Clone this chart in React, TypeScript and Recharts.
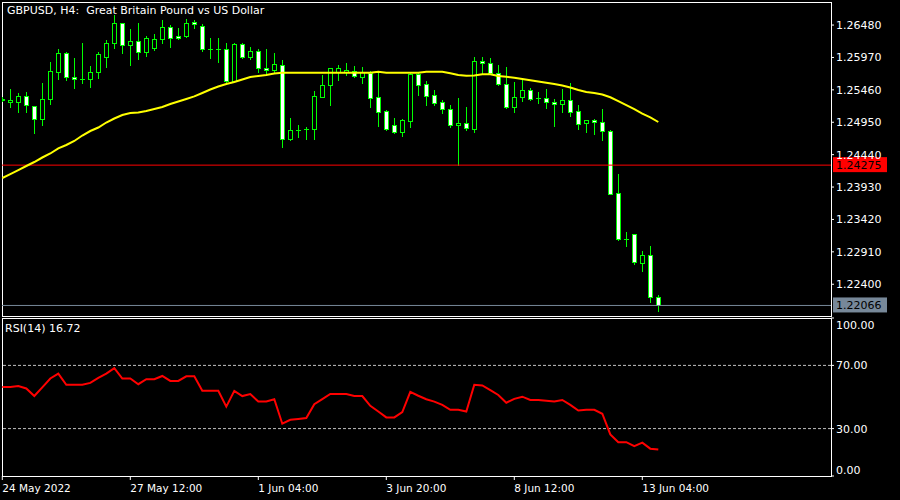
import { ComposedChart, Bar, Line, XAxis, YAxis, ReferenceLine } from "recharts";

// GBPUSD H4 candles (83 bars, oldest first)
const opens = [
  1.25316, 1.25264, 1.25264, 1.25358, 1.2521, 1.25001, 1.25311, 1.25736, 1.26035, 1.25657,
  1.25626, 1.25626, 1.25736, 1.25972, 1.26192, 1.26507, 1.26161, 1.26224, 1.26051, 1.26114,
  1.26255, 1.26449, 1.26307, 1.26307, 1.26523, 1.2646, 1.26098, 1.26098, 1.26098, 1.25599,
  1.26181, 1.25982, 1.26067, 1.25799, 1.25768, 1.25846, 1.24681, 1.24828, 1.24839, 1.24839,
  1.25352, 1.25531, 1.25741, 1.25736, 1.25761, 1.25667, 1.2572, 1.25343, 1.25122, 1.24907,
  1.24801, 1.24974, 1.25709, 1.25552, 1.25379, 1.25264, 1.25154, 1.24902, 1.24933, 1.24848,
  1.25909, 1.25878, 1.2572, 1.25547, 1.25195, 1.25343, 1.25457, 1.25336, 1.25327, 1.25264,
  1.25242, 1.25295, 1.25127, 1.24933, 1.24985, 1.24949, 1.24812, 1.23832, 1.23107, 1.23186,
  1.22739, 1.22856, 1.22195,
];
const highs = [
  1.25347, 1.25468, 1.25405, 1.25431, 1.2521, 1.25563, 1.25898, 1.26098, 1.2606, 1.25956,
  1.26202, 1.2584, 1.2606, 1.26244, 1.26638, 1.26507, 1.26413, 1.26517, 1.26307, 1.26339,
  1.26559, 1.2648, 1.26438, 1.2657, 1.26559, 1.26496, 1.26281, 1.26281, 1.26192, 1.26192,
  1.26202, 1.26139, 1.26098, 1.26098, 1.26035, 1.2593, 1.25012, 1.24907, 1.2487, 1.25442,
  1.25694, 1.25799, 1.25851, 1.25878, 1.25835, 1.25815, 1.25756, 1.2572, 1.25143, 1.25012,
  1.24996, 1.25745, 1.2572, 1.25604, 1.25457, 1.253, 1.25221, 1.25327, 1.25185, 1.25972,
  1.25972, 1.25956, 1.25851, 1.25815, 1.25588, 1.25615, 1.25484, 1.25431, 1.25468, 1.25311,
  1.25473, 1.25563, 1.25221, 1.24985, 1.24996, 1.25158, 1.24828, 1.24135, 1.23222, 1.23191,
  1.22923, 1.23002, 1.22231,
];
const lows = [
  1.25284, 1.25195, 1.25116, 1.25111, 1.24785, 1.24907, 1.25232, 1.25635, 1.25615, 1.25494,
  1.25563, 1.255, 1.25651, 1.25824, 1.26123, 1.26044, 1.25846, 1.25941, 1.25993, 1.26087,
  1.26192, 1.26139, 1.26255, 1.26296, 1.26429, 1.26076, 1.25956, 1.25893, 1.25583, 1.25594,
  1.25956, 1.25941, 1.25736, 1.2573, 1.25736, 1.24565, 1.24678, 1.24722, 1.24686, 1.24681,
  1.25343, 1.25221, 1.25615, 1.25694, 1.25657, 1.25572, 1.25195, 1.24891, 1.24828, 1.24776,
  1.24733, 1.2487, 1.25379, 1.25221, 1.25221, 1.251, 1.2487, 1.2428, 1.24828, 1.24801,
  1.2572, 1.25715, 1.25536, 1.25169, 1.25116, 1.25289, 1.253, 1.25253, 1.25179, 1.24896,
  1.25116, 1.25053, 1.24844, 1.24801, 1.24765, 1.2467, 1.23816, 1.23096, 1.23007, 1.22714,
  1.22613, 1.22125, 1.21984,
];
const closes = [
  1.253, 1.253, 1.25358, 1.25221, 1.25001, 1.25311, 1.25752, 1.26035, 1.25657, 1.25626,
  1.25626, 1.25736, 1.26024, 1.26192, 1.26507, 1.26166, 1.26224, 1.26051, 1.26271, 1.26255,
  1.26449, 1.26276, 1.26276, 1.26517, 1.26491, 1.26098, 1.26098, 1.26098, 1.25594, 1.26181,
  1.25982, 1.26067, 1.25799, 1.25768, 1.25867, 1.24681, 1.24823, 1.24828, 1.24839, 1.25358,
  1.25531, 1.25799, 1.25799, 1.25772, 1.25678, 1.25736, 1.25327, 1.25116, 1.24848, 1.24801,
  1.24985, 1.25709, 1.25536, 1.25368, 1.25248, 1.25154, 1.24902, 1.24933, 1.24855, 1.25909,
  1.25878, 1.2572, 1.25547, 1.25195, 1.25343, 1.25457, 1.25311, 1.25336, 1.25264, 1.25232,
  1.253, 1.25116, 1.24918, 1.24985, 1.24949, 1.24807, 1.23816, 1.23107, 1.23107, 1.22745,
  1.22856, 1.22195, 1.22066,
];
// yellow moving average
const maValues = [
  1.24072, 1.24135, 1.24198, 1.24261, 1.24324, 1.24395, 1.24458, 1.2454, 1.24592, 1.24655,
  1.24741, 1.24812, 1.24867, 1.24946, 1.25009, 1.25064, 1.25095, 1.25103, 1.25127, 1.25158,
  1.2519, 1.25237, 1.25276, 1.25316, 1.25358, 1.2541, 1.25465, 1.25513, 1.25552, 1.25583,
  1.25623, 1.25662, 1.25678, 1.25694, 1.25717, 1.2573, 1.2573, 1.2573, 1.2573, 1.2573,
  1.2573, 1.2573, 1.2573, 1.2573, 1.2573, 1.2573, 1.2573, 1.25745, 1.2573, 1.2573,
  1.2573, 1.2573, 1.2573, 1.25745, 1.25745, 1.25745, 1.2572, 1.25694, 1.25683, 1.25686,
  1.25705, 1.25705, 1.25678, 1.25667, 1.25651, 1.25631, 1.2561, 1.25591, 1.25572, 1.25552,
  1.25528, 1.25497, 1.25457, 1.25426, 1.2541, 1.25387, 1.25343, 1.25284, 1.25221, 1.25158,
  1.25087, 1.25027, 1.24954,
];
const rsiValues = [
  56.4, 56.4, 56.9, 55.4, 50.6, 56.1, 61.7, 64.8, 57.7, 57.7,
  57.7, 58.9, 62.1, 64.8, 68.3, 61.7, 61.7, 58.1, 61.3, 61.3,
  63.3, 60.2, 60.2, 63.1, 63.1, 53.9, 53.9, 53.9, 43.9, 53.9,
  50.6, 51.9, 47.1, 47.1, 48.6, 33.1, 35.6, 36.1, 36.7, 45.4,
  48.6, 51.9, 51.9, 51.9, 50.6, 50.6, 44.4, 40.8, 37.1, 37.1,
  40.4, 53.3, 50.8, 48.6, 47.1, 45.0, 41.9, 41.9, 40.8, 57.7,
  57.3, 54.4, 51.3, 46.4, 48.8, 50.2, 48.1, 48.1, 47.7, 47.1,
  48.1, 45.0, 41.4, 41.9, 41.9, 39.4, 26.3, 21.4, 21.4, 18.9,
  21.1, 17.3, 16.72,
];

const timeTicks = [0, 16, 32, 48, 64, 80];
const timeLabels = ["24 May 2022", "27 May 12:00", "1 Jun 04:00", "3 Jun 20:00", "8 Jun 12:00", "13 Jun 04:00"];
const priceTicks = [1.2648, 1.2597, 1.2546, 1.2495, 1.2444, 1.2393, 1.2342, 1.2291, 1.224];
const rsiTicks = [0, 30, 70, 100];
const rsiLevels = [70, 30];
const redLinePrice = 1.24275;
const lastPrice = 1.22066;

const GREEN = "#00ff00";
const X_DOMAIN: [number, number] = [-0.0375, 103.5875];
const FONT = "'DejaVu Sans', sans-serif";

const candles = opens.map((o, i) => ({
  i,
  open: o,
  high: highs[i],
  low: lows[i],
  close: closes[i],
  range: [lows[i], highs[i]],
  ma: maValues[i],
}));
const rsiData = rsiValues.map((v, i) => ({ i, rsi: v }));

function Candle(props: any) {
  const { x, y, width, height, payload } = props;
  if (x == null || !payload) return null;
  const cx = Math.round(x + width / 2) + 0.5;
  const top = Math.min(y, y + height);
  const bot = Math.max(y, y + height);
  const { open: o, high: h, low: l, close: c } = payload;
  const span = h - l || 1;
  // linear scale, so open/close sit proportionally between high and low
  const yOf = (v: number) => top + ((h - v) / span) * (bot - top);
  const bTop = Math.round(yOf(Math.max(o, c))) + 0.5;
  const bBot = Math.round(yOf(Math.min(o, c))) + 0.5;
  const bull = c >= o;
  return (
    <g>
      <line x1={cx} x2={cx} y1={Math.round(top)} y2={Math.round(bot) + 1} stroke={GREEN} strokeWidth={1} />
      {bBot - bTop < 1 ? (
        <line x1={cx - 2.5} x2={cx + 2.5} y1={bTop} y2={bTop} stroke={GREEN} strokeWidth={1} />
      ) : (
        <rect x={cx - 2} y={bTop} width={4} height={bBot - bTop} fill={bull ? "#000" : "#fff"} stroke={GREEN} strokeWidth={1} />
      )}
    </g>
  );
}

function PriceTag({ viewBox, text, bg }: any) {
  if (!viewBox) return null;
  const x = viewBox.x + viewBox.width + 2;
  const y = viewBox.y;
  return (
    <g>
      <rect x={x} y={y - 8} width={54} height={15} fill={bg} />
      <text x={x + 3} y={y + 4} fill="#000" fontSize={11} fontFamily={FONT}>
        {text}
      </text>
    </g>
  );
}

function TimeTick({ x, y, payload }: any) {
  const idx = timeTicks.indexOf(payload.value);
  return (
    <text x={x} y={y + 10} fill="#fff" fontSize={10.5} fontFamily={FONT} textAnchor="start">
      {timeLabels[idx]}
    </text>
  );
}

function RsiTick({ x, y, payload }: any) {
  const v = payload.value;
  const dy = v === 100 ? 7 : v === 0 ? -6 : 0;
  return (
    <text x={x} y={y + dy + 4} fill="#fff" fontSize={11} fontFamily={FONT}>
      {v.toFixed(2)}
    </text>
  );
}

export default function App() {
  return (
    <div style={{ position: "absolute", left: 0, top: 0, width: 900, height: 500, background: "#000", fontFamily: FONT, overflow: "hidden" }}>
      {/* panel frames */}
      <div style={{ position: "absolute", left: 2, top: 2, width: 830, height: 315, border: "1px solid #fff", boxSizing: "border-box" }} />
      <div style={{ position: "absolute", left: 2, top: 318, width: 830, height: 159, border: "1px solid #fff", boxSizing: "border-box" }} />

      <div style={{ position: "absolute", left: 0, top: 0 }}>
        <ComposedChart width={900} height={320} data={candles} margin={{ top: 2, right: 0, bottom: 4, left: 2 }}>
          <XAxis dataKey="i" type="number" domain={X_DOMAIN} allowDataOverflow hide />
          <YAxis
            orientation="right"
            type="number"
            width={69}
            domain={[1.219, 1.26843]}
            allowDataOverflow
            ticks={priceTicks}
            interval={0}
            tickFormatter={(v: number) => v.toFixed(5)}
            tick={{ fill: "#fff", fontSize: 11 }}
            tickLine={{ stroke: "#fff" }}
            tickSize={3}
            tickMargin={2}
            axisLine={false}
          />
          <ReferenceLine y={redLinePrice} stroke="#ff0000" strokeWidth={1} label={<PriceTag text="1.24275" bg="#ff0000" />} />
          <ReferenceLine y={lastPrice} stroke="#778899" strokeWidth={1} label={<PriceTag text="1.22066" bg="#778899" />} />
          <Bar dataKey="range" barSize={5} shape={<Candle />} isAnimationActive={false} />
          <Line type="linear" dataKey="ma" stroke="#ffff00" strokeWidth={2} dot={false} isAnimationActive={false} />
        </ComposedChart>
      </div>

      <div style={{ position: "absolute", left: 0, top: 316 }}>
        <ComposedChart width={900} height={184} data={rsiData} margin={{ top: 2, right: 0, bottom: 0, left: 2 }}>
          <XAxis
            dataKey="i"
            type="number"
            domain={X_DOMAIN}
            allowDataOverflow
            ticks={timeTicks}
            interval={0}
            height={24}
            tick={<TimeTick />}
            tickLine={{ stroke: "#fff" }}
            tickSize={4}
            axisLine={false}
          />
          <YAxis
            orientation="right"
            type="number"
            width={69}
            domain={[0, 100]}
            ticks={rsiTicks}
            interval={0}
            tick={<RsiTick />}
            tickLine={{ stroke: "#fff" }}
            tickSize={3}
            tickMargin={2}
            axisLine={false}
          />
          {rsiLevels.map((lv) => (
            <ReferenceLine key={lv} y={lv} stroke="#c0c0c0" strokeDasharray="3 2" strokeWidth={1} />
          ))}
          <Line type="linear" dataKey="rsi" stroke="#ff0000" strokeWidth={2} dot={false} isAnimationActive={false} />
        </ComposedChart>
      </div>

      <div style={{ position: "absolute", left: 7, top: 4, color: "#fff", fontSize: 11, whiteSpace: "pre", lineHeight: "14px" }}>
        {"GBPUSD, H4:  Great Britain Pound vs US Dollar"}
      </div>
      <div style={{ position: "absolute", left: 5, top: 322, color: "#fff", fontSize: 11, whiteSpace: "pre", lineHeight: "14px" }}>
        {"RSI(14) 16.72"}
      </div>
    </div>
  );
}
